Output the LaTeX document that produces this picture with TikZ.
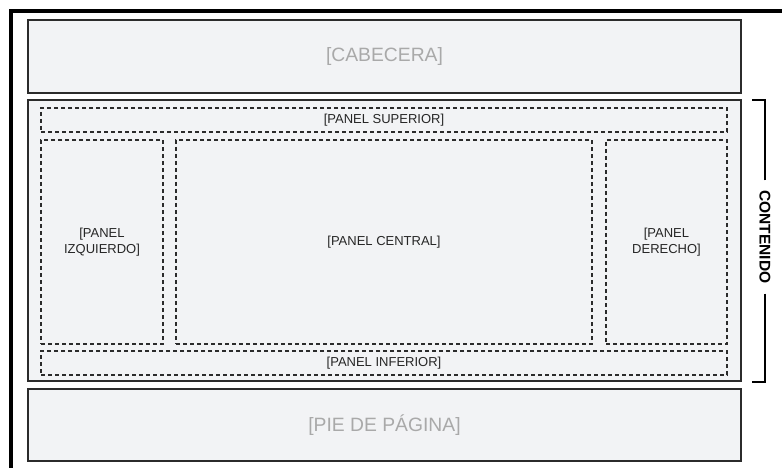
\documentclass[tikz,border=0pt]{standalone}
\usepackage{fontspec}
\setmainfont{Liberation Sans}
\definecolor{panelfill}{HTML}{F2F3F5}
\definecolor{lineblk}{HTML}{2B2B2B}
\definecolor{softgray}{HTML}{A9A9A9}
\tikzset{
  area/.style={draw=lineblk,line width=1.5pt,fill=panelfill,inner sep=0pt},
  panel/.style={draw=lineblk,line width=1.1pt,dash pattern=on 4pt off 3pt,
    inner sep=0pt,font=\fontsize{13}{16}\selectfont,align=center,text=black!85},
  faded/.style={text=softgray,font=\fontsize{19.3}{22}\selectfont}
}
\begin{document}
\begin{tikzpicture}[x=1pt,y=-1pt]
  \useasboundingbox (0,0) rectangle (782,468);
  \draw[line width=3.5pt,black] (11,470) |- (784,11);
  \node[area,faded,minimum width=713pt,minimum height=73pt] (cabecera) at (384.5,56.5) {[CABECERA]};
  \node[area,minimum width=713pt,minimum height=281pt] (contenido) at (384.5,240.5) {};
  \node[area,faded,minimum width=713pt,minimum height=72pt] (pie) at (384.5,425) {[PIE DE PÁGINA]};
  \begin{scope}
    \node[panel,minimum width=686pt,minimum height=24pt] (superior) at (384,120) {[PANEL SUPERIOR]};
    \node[panel,minimum width=122pt,minimum height=204pt] (izquierdo) at (102,242) {[PANEL\\IZQUIERDO]};
    \node[panel,minimum width=416pt,minimum height=204pt] (central) at (384,242) {[PANEL CENTRAL]};
    \node[panel,minimum width=121pt,minimum height=204pt] (derecho) at (666.5,242) {[PANEL\\DERECHO]};
    \node[panel,minimum width=686pt,minimum height=24pt] (inferior) at (384,363) {[PANEL INFERIOR]};
  \end{scope}
  % llave de contenido
  \node[rotate=-90,font=\bfseries\fontsize{15.5}{18}\selectfont,inner sep=10pt] (etiqueta) at (765,237) {CONTENIDO};
  \coordinate (arriba) at (752,100);
  \coordinate (abajo) at (752,382);
  \draw[line width=1.5pt] (etiqueta.west) -- (etiqueta.west |- arriba) -- (arriba);
  \draw[line width=1.5pt] (etiqueta.east) -- (etiqueta.east |- abajo) -- (abajo);
\end{tikzpicture}
\end{document}
